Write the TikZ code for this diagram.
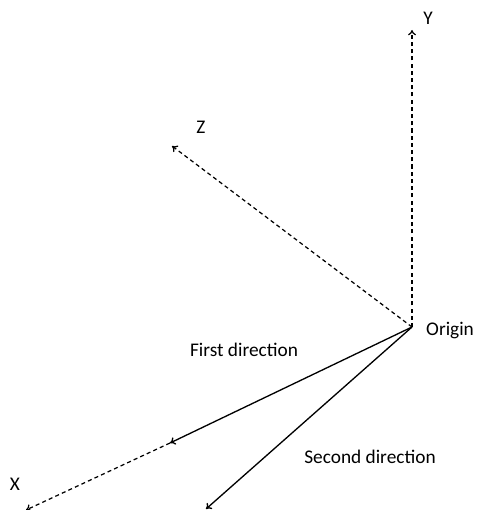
\documentclass[tikz,border=0pt]{standalone}
\usepackage{fontspec}
\setmainfont{Carlito}
\usetikzlibrary{arrows.meta}
\tikzset{
  axis/.style={-{To[length=3pt,width=4.5pt]}, dash pattern=on 2.3pt off 1.8pt, line width=0.7pt},
  dir/.style={-{To[length=3pt,width=4.5pt]}, line width=0.75pt},
  lbl/.style={font=\fontsize{11}{13}\selectfont}
}
\begin{document}
\begin{tikzpicture}[x=0.02cm, y=-0.02cm]
		% Canvas (pixel units, y downwards)
		\useasboundingbox (0,0) rectangle (498,510);
		
		% Origin and axis end points
		\coordinate (o) at (412,327);
		\coordinate (ytip) at (412,30);
		\coordinate (ztip) at (172,146);
		\coordinate (fd) at (170,443);
		\coordinate (xtip) at (26,510);
		\coordinate (sd) at (206,509);
		
		% Axes (dashed)
		\draw[axis] (o) -- (ytip);
		\draw[axis] (o) -- (ztip);
		\draw[axis] (fd) -- (xtip);
		
		% Directions (solid)
		\draw[dir] (o) -- (fd);
		\draw[dir] (o) -- (sd);
		
		% Labels
		\node[lbl] (ylab) at (428,18) {Y};
		\node[lbl] (zlab) at (201,127) {Z};
		\node[lbl] (xlab) at (15,484) {X};
		\node[lbl, right] (olab) at (420,331) {Origin};
		\node[lbl] (fdlab) at (244,350) {First direction};
		\node[lbl] (sdlab) at (370,457) {Second direction};
	\end{tikzpicture}
\end{document}
